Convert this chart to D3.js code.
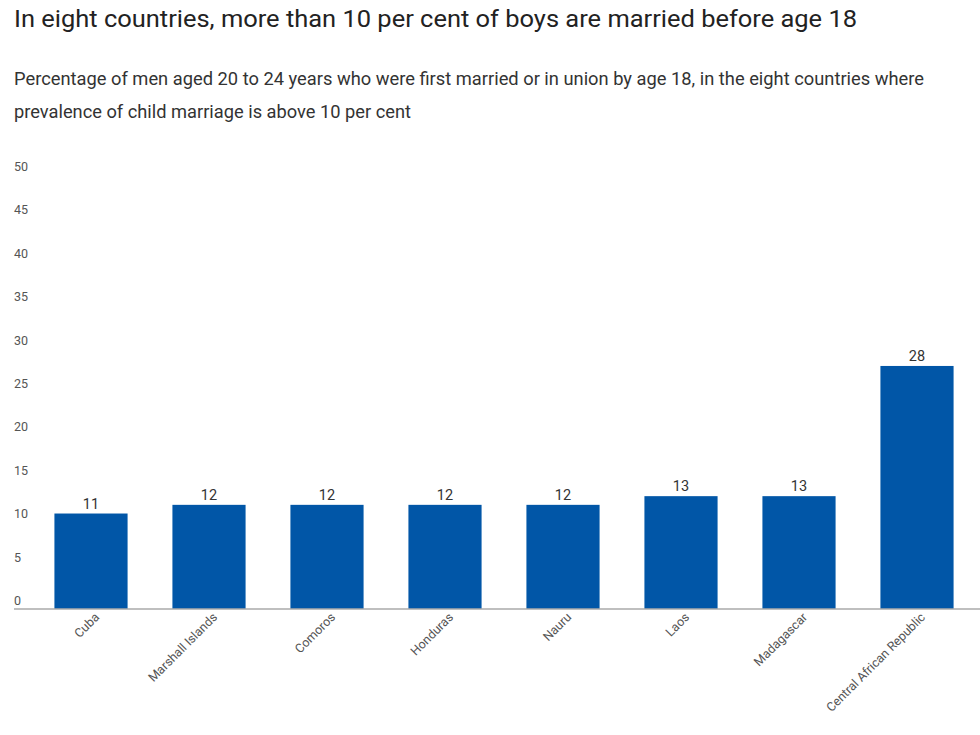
<!DOCTYPE html>
<html><head><meta charset="utf-8">
<script src="https://cdn.jsdelivr.net/npm/d3@7"></script>
<style>body{margin:0;background:#fff;}svg{display:block;font-family:Roboto,"Noto Sans",sans-serif;}</style>
</head><body>
<script>
const countries = ["Cuba","Marshall Islands","Comoros","Honduras","Nauru","Laos","Madagascar","Central African Republic"];
const values = [11,12,12,12,12,13,13,28];
const yTicks = [0,5,10,15,20,25,30,35,40,45,50];
const title = "In eight countries, more than 10 per cent of boys are married before age 18";
const subtitle1 = "Percentage of men aged 20 to 24 years who were first married or in union by age 18, in the eight countries where";
const subtitle2 = "prevalence of child marriage is above 10 per cent";

const W = 980, H = 735;
const svg = d3.select("body").append("svg").attr("width", W).attr("height", H);

svg.append("text").attr("x", 14).attr("y", 27).attr("font-size", 24).attr("fill", "#222")
  .attr("textLength", 843).attr("lengthAdjust", "spacingAndGlyphs").text(title);
svg.append("text").attr("x", 14).attr("y", 85).attr("font-size", 18).attr("fill", "#333")
  .attr("textLength", 910).attr("lengthAdjust", "spacingAndGlyphs").text(subtitle1);
svg.append("text").attr("x", 14).attr("y", 118).attr("font-size", 18).attr("fill", "#333")
  .attr("textLength", 397).attr("lengthAdjust", "spacingAndGlyphs").text(subtitle2);

const x = d3.scaleBand().domain(countries).range([32, 976]).paddingInner(0.38).paddingOuter(0.19);
const y = d3.scaleLinear().domain([0, 50]).range([609, 175]);

// y tick labels
svg.append("g").selectAll("text").data(yTicks).join("text")
  .attr("x", 14).attr("y", d => y(d) - 4).attr("font-size", 12.5).attr("fill", "#555")
  .text(d => d);

// bars
svg.append("g").selectAll("rect").data(values).join("rect")
  .attr("x", (d, i) => x(countries[i])).attr("width", x.bandwidth())
  .attr("y", d => y(d)).attr("height", d => y(0) - y(d))
  .attr("fill", "#0156a7");

// value labels
svg.append("g").selectAll("text").data(values).join("text")
  .attr("x", (d, i) => x(countries[i]) + x.bandwidth() / 2).attr("y", d => y(d) - 5)
  .attr("text-anchor", "middle").attr("font-size", 14.5).attr("fill", "#333")
  .text(d => d);

// axis line
svg.append("line").attr("x1", 14).attr("x2", 980).attr("y1", y(0)).attr("y2", y(0))
  .attr("stroke", "#aaa").attr("stroke-width", 1.5);

// x labels
svg.append("g").selectAll("text").data(countries).join("text")
  .attr("transform", d => `translate(${x(d) + x.bandwidth() / 2 + 9},${y(0) + 9}) rotate(-45)`)
  .attr("text-anchor", "end").attr("font-size", 12.5).attr("fill", "#555")
  .text(d => d);
</script>
</body></html>
